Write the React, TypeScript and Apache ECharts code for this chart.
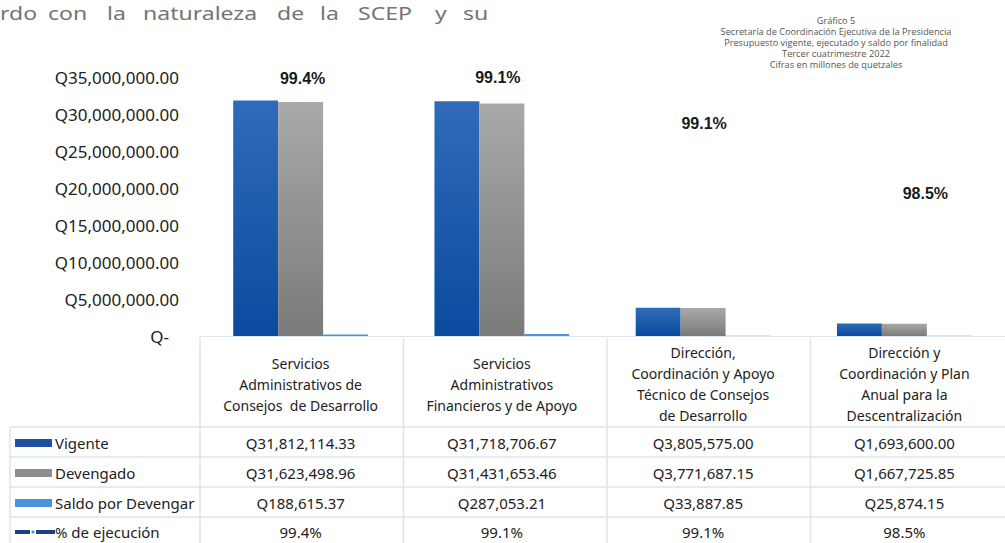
import React, { useEffect, useRef } from 'react';
import * as echarts from 'echarts';

const categories = [
  'Servicios\nAdministrativos de\nConsejos  de Desarrollo',
  'Servicios\nAdministrativos\nFinancieros y de Apoyo',
  'Dirección,\nCoordinación y Apoyo\nTécnico de Consejos\nde Desarrollo',
  'Dirección y\nCoordinación y Plan\nAnual para la\nDescentralización',
];
const vigente = [31812114.33, 31718706.67, 3805575.0, 1693600.0];
const devengado = [31623498.96, 31431653.46, 3771687.15, 1667725.85];
const saldo = [188615.37, 287053.21, 33887.85, 25874.15];
const ejecucion = [99.4, 99.1, 99.1, 98.5];
const seriesNames = ['Vigente', 'Devengado', 'Saldo por Devengar', '% de ejecución'];
const yMax = 35000000;
const yInterval = 5000000;
const titleLines = [
  'Gráfico 5',
  'Secretaría de Coordinación Ejecutiva de la Presidencia',
  'Presupuesto vigente, ejecutado y saldo por finalidad',
  'Tercer cuatrimestre 2022',
  'Cifras en millones de quetzales',
];
const introWords = ['rdo', 'con', 'la', 'naturaleza', 'de', 'la', 'SCEP', 'y', 'su'];

const money = (v: number) =>
  'Q' + v.toLocaleString('en-US', { minimumFractionDigits: 2, maximumFractionDigits: 2 });
const pct = (v: number) => v.toFixed(1) + '%';

const FONT = '"Noto Sans", sans-serif';
const GRID_LEFT = 200;
const GRID_TOP = 77;
const GRID_W = 814;
const GRID_H = 259;
const LINE_C = '#DCE4EF';

export default function App() {
  const ref = useRef<HTMLDivElement>(null);
  useEffect(() => {
    document.body.style.margin = '0';
    const chart = echarts.init(ref.current!, undefined, { renderer: 'svg' });
    const grad = (a: string, b: string) =>
      new echarts.graphic.LinearGradient(0, 0, 0, 1, [
        { offset: 0, color: a },
        { offset: 1, color: b },
      ]);
    const labelOffsets = [[2, 0], [-4, -39], [1, 7], [21, 0]];
    chart.setOption({
      animation: false,
      grid: { left: GRID_LEFT, top: GRID_TOP, width: GRID_W, height: GRID_H, containLabel: false },
      xAxis: {
        type: 'category',
        data: categories,
        axisLine: { show: true, lineStyle: { color: LINE_C, width: 1 } },
        axisTick: { show: false },
        axisLabel: {
          interval: 0,
          margin: 48,
          verticalAlign: 'middle',
          fontFamily: FONT,
          fontSize: 14,
          lineHeight: 21,
          color: '#222',
        },
      },
      yAxis: [
        {
          type: 'value',
          min: 0,
          max: yMax,
          interval: yInterval,
          splitLine: { show: false },
          axisLine: { show: false },
          axisTick: { show: false },
          axisLabel: {
            margin: 21,
            fontFamily: FONT,
            fontSize: 17,
            color: '#222',
            formatter: (v: number) => (v === 0 ? '{z|Q-}' : money(v)),
            rich: { z: { fontFamily: FONT, fontSize: 17, color: '#222', padding: [0, 10, 0, 0] } },
          },
        },
        { type: 'value', min: 97.381, max: 99.408, show: false },
      ],
      series: [
        {
          name: seriesNames[0],
          type: 'bar',
          data: vigente,
          barGap: '0%',
          barCategoryGap: '33%',
          itemStyle: { color: grad('#2F6BB8', '#0B4A9E') },
        },
        {
          name: seriesNames[1],
          type: 'bar',
          data: devengado,
          itemStyle: { color: grad('#A9A9A9', '#7A7A7A') },
        },
        {
          name: seriesNames[2],
          type: 'bar',
          data: saldo,
          itemStyle: { color: '#4E93DA' },
        },
        {
          name: seriesNames[3],
          type: 'line',
          yAxisIndex: 1,
          data: ejecucion.map((v, i) => ({ value: v, label: { offset: labelOffsets[i] } })),
          lineStyle: { width: 0, color: 'rgba(0,0,0,0)' },
          symbol: 'circle',
          symbolSize: 1,
          showSymbol: true,
          itemStyle: { color: 'rgba(0,0,0,0)' },
          label: {
            show: true,
            position: 'inside',
            formatter: (p: any) => pct(p.value),
            fontFamily: '"Liberation Sans", Arial, sans-serif',
            fontWeight: 'bold',
            fontSize: 16,
            color: '#1a1a1a',
          },
        },
      ],
    });

    const cx = categories.map((_, i) => chart.convertToPixel({ xAxisIndex: 0 }, i) as number);
    const rowY = [443, 473, 503, 532];
    const rows = [vigente.map(money), devengado.map(money), saldo.map(money), ejecucion.map(pct)];
    const keyColors = ['#1F50A2', '#8E8E8E', '#4A92DB'];
    const g: any[] = [];
    [427, 457, 487, 517].forEach((y) =>
      g.push({ type: 'line', shape: { x1: 10, y1: y, x2: 1005, y2: y }, style: { stroke: LINE_C, lineWidth: 1.5 } })
    );
    g.push({ type: 'line', shape: { x1: 10, y1: 427, x2: 10, y2: 543 }, style: { stroke: LINE_C, lineWidth: 1.5 } });
    const colW = GRID_W / categories.length;
    for (let i = 0; i < categories.length; i++) {
      const x = GRID_LEFT + colW * i;
      g.push({ type: 'line', shape: { x1: x, y1: 338, x2: x, y2: 543 }, style: { stroke: LINE_C, lineWidth: 1.5 } });
    }
    seriesNames.forEach((name, r) => {
      const y = rowY[r];
      if (r < 3) {
        g.push({ type: 'rect', shape: { x: 15, y: y - 4, width: 37, height: 8 }, style: { fill: keyColors[r] } });
      } else {
        g.push({ type: 'line', shape: { x1: 15, y1: y, x2: 30, y2: y }, style: { stroke: '#1F3F7F', lineWidth: 4 } });
        g.push({ type: 'circle', shape: { cx: 33, cy: y, r: 1.6 }, style: { fill: '#5B8BD0' } });
        g.push({ type: 'line', shape: { x1: 36, y1: y, x2: 55, y2: y }, style: { stroke: '#1F3F7F', lineWidth: 4 } });
      }
      g.push({
        type: 'text',
        x: 55,
        y,
        style: { text: name, fontFamily: FONT, fontSize: 15, fill: '#222', verticalAlign: 'middle', align: 'left' },
      });
      rows[r].forEach((t, i) =>
        g.push({
          type: 'text',
          x: cx[i],
          y,
          style: { text: t, fontFamily: FONT, fontSize: 15, fill: '#222', verticalAlign: 'middle', align: 'center' },
        })
      );
    });
    titleLines.forEach((t, i) =>
      g.push({
        type: 'text',
        x: 836,
        y: 20 + i * 11,
        style: {
          text: t,
          fontFamily: '"Open Sans", sans-serif',
          fontSize: 9.2,
          lineHeight: 11,
          fill: '#555',
          align: 'center',
          verticalAlign: 'middle',
        },
      })
    );
    const wordX = [0, 48, 107, 143, 277, 320, 358, 435, 463];
    introWords.forEach((w, i) =>
      g.push({
        type: 'text',
        x: wordX[i],
        y: 13,
        scaleX: 1.28,
        style: { text: w, fontFamily: FONT, fontSize: 18, fill: '#747474', align: 'left', verticalAlign: 'middle' },
      })
    );
    chart.setOption({ graphic: g });
    return () => chart.dispose();
  }, []);
  return <div ref={ref} style={{ width: 1005, height: 543 }} />;
}
